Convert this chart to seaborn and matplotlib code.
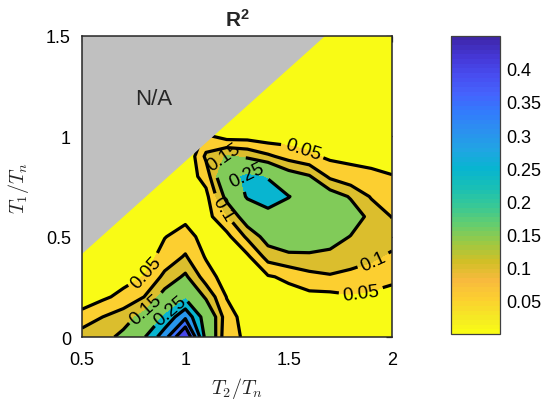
import numpy as np
import matplotlib
matplotlib.use("Agg")
import matplotlib.pyplot as plt
import seaborn as sns
from matplotlib.colors import LinearSegmentedColormap, Normalize
from matplotlib.patches import Polygon
from matplotlib.cm import ScalarMappable

# ---- grid coordinates -------------------------------------------------------
t2_grid = [0.5, 0.6, 0.7, 0.8, 0.9, 1.0, 1.1, 1.2, 1.3, 1.4, 1.5, 1.6, 1.7, 1.8, 1.9, 2.0]
t1_grid = [0.0, 0.1, 0.2, 0.3, 0.4, 0.5, 0.6, 0.7, 0.8, 0.9, 1.0, 1.1, 1.2, 1.3, 1.4, 1.5]

# ---- R^2 values, one list per T1/Tn row (columns follow t2_grid) -------------
r2_t1_00 = [0.12, 0.13, 0.165, 0.245, 0.33, 0.46, 0.23, 0.06, 0.045, 0.03, 0.02, 0.015, 0.01, 0.01, 0.01, 0.015]
r2_t1_01 = [0.075, 0.10, 0.125, 0.17, 0.26, 0.34, 0.22, 0.07, 0.03, 0.02, 0.01, 0.015, 0.02, 0.025, 0.02, 0.02]
r2_t1_02 = [0.01, 0.04, 0.065, 0.10, 0.175, 0.24, 0.14, 0.048, 0.02, 0.03, 0.03, 0.035, 0.035, 0.045, 0.04, 0.035]
r2_t1_03 = [0.0, 0.015, 0.03, 0.052, 0.1125, 0.16, 0.075, 0.025, 0.025, 0.045, 0.06, 0.085, 0.095, 0.085, 0.075, 0.06]
r2_t1_04 = [0.0, 0.005, 0.01, 0.025, 0.07, 0.105, 0.045, 0.02, 0.04, 0.12, 0.14, 0.14, 0.135, 0.125, 0.11, 0.09]
r2_t1_05 = [0.0, 0.0, 0.005, 0.01, 0.048, 0.07, 0.03, 0.035, 0.11, 0.175, 0.185, 0.19, 0.175, 0.148, 0.14, 0.125]
r2_t1_06 = [0.0, 0.0, 0.0, 0.01, 0.03, 0.037, 0.03, 0.095, 0.19, 0.225, 0.22, 0.215, 0.195, 0.18, 0.135, 0.098]
r2_t1_07 = [0.0, 0.0, 0.0, 0.01, 0.02, 0.02, 0.035, 0.17, 0.258, 0.285, 0.252, 0.22, 0.18, 0.145, 0.095, 0.075]
r2_t1_08 = [0.0, 0.0, 0.0, 0.0, 0.0, 0.02, 0.07, 0.225, 0.262, 0.245, 0.18, 0.155, 0.09, 0.065, 0.06, 0.052]
r2_t1_09 = [0.0, 0.0, 0.0, 0.0, 0.0, 0.0, 0.11, 0.155, 0.14, 0.11, 0.08, 0.06, 0.04, 0.04, 0.035, 0.03]
r2_t1_10 = [0.0, 0.0, 0.0, 0.0, 0.0, 0.0, 0.06, 0.03, 0.03, 0.02, 0.025, 0.025, 0.02, 0.02, 0.02, 0.02]
r2_t1_11 = [0.0, 0.0, 0.0, 0.0, 0.0, 0.0, 0.01, 0.01, 0.01, 0.01, 0.01, 0.01, 0.01, 0.01, 0.01, 0.01]
r2_t1_12 = [0.0, 0.0, 0.0, 0.0, 0.0, 0.0, 0.01, 0.01, 0.01, 0.01, 0.01, 0.01, 0.01, 0.01, 0.01, 0.01]
r2_t1_13 = [0.0, 0.0, 0.0, 0.0, 0.0, 0.0, 0.01, 0.01, 0.01, 0.01, 0.01, 0.01, 0.01, 0.01, 0.01, 0.01]
r2_t1_14 = [0.0, 0.0, 0.0, 0.0, 0.0, 0.0, 0.01, 0.01, 0.01, 0.01, 0.01, 0.01, 0.01, 0.01, 0.01, 0.01]
r2_t1_15 = [0.0, 0.0, 0.0, 0.0, 0.0, 0.0, 0.01, 0.01, 0.01, 0.01, 0.01, 0.01, 0.01, 0.01, 0.01, 0.01]

r2 = np.array([r2_t1_00, r2_t1_01, r2_t1_02, r2_t1_03, r2_t1_04, r2_t1_05,
               r2_t1_06, r2_t1_07, r2_t1_08, r2_t1_09, r2_t1_10, r2_t1_11,
               r2_t1_12, r2_t1_13, r2_t1_14, r2_t1_15])

# contour levels, colorbar ticks, and where each labelled level gets its text
line_levels = [0.05, 0.1, 0.15, 0.25, 0.3, 0.35, 0.4]
cbar_ticks = [0.05, 0.1, 0.15, 0.2, 0.25, 0.3, 0.35, 0.4]
label_spots = {
    0.05: [(1.56, 0.90), (1.85, 0.22), (0.83, 0.31)],
    0.1: [(1.18, 0.64), (1.92, 0.36)],
    0.15: [(1.18, 0.90), (0.80, 0.15)],
    0.25: [(1.30, 0.80), (0.93, 0.13)],
}
# region where no result exists
na_corners = [(0.5, 0.414), (1.676, 1.5), (0.5, 1.5)]

# ---- style ------------------------------------------------------------------
sns.set_theme(style="white")
plt.rcParams["font.family"] = ["Liberation Sans", "DejaVu Sans"]
plt.rcParams["mathtext.fontset"] = "cm"
plt.rcParams["mathtext.rm"] = "Liberation Sans"
plt.rcParams["mathtext.bf"] = "Liberation Sans:bold"

parula_pts = [
    (0.2422, 0.1504, 0.6603), (0.2706, 0.2147, 0.8364), (0.2813, 0.3006, 0.9414),
    (0.2699, 0.3892, 0.9906), (0.1963, 0.4847, 0.9892), (0.1687, 0.5703, 0.9359),
    (0.1248, 0.6459, 0.8883), (0.0297, 0.7082, 0.8163), (0.0964, 0.7500, 0.7120),
    (0.2161, 0.7843, 0.5923), (0.3909, 0.8029, 0.4354), (0.6174, 0.7876, 0.2612),
    (0.8203, 0.7498, 0.1535), (0.9728, 0.7298, 0.2394), (0.9892, 0.8136, 0.1885),
    (0.9597, 0.9135, 0.1423), (0.9769, 0.9839, 0.0805),
]
pos = [0, 4, 8, 12, 16, 20, 24, 28, 32, 36, 40, 44, 48, 52, 56, 60, 63]
parula = LinearSegmentedColormap.from_list(
    "parula", [(p / 63, c) for p, c in zip(pos, parula_pts)], N=64)
cmap = parula.reversed()
norm = Normalize(vmin=0.0, vmax=0.45)

fill_levels = [0.0] + line_levels + [0.5]
band_colors = [cmap(norm(v)) for v in fill_levels[:-1]]

fig = plt.figure(figsize=(5.59, 4.02), dpi=100)
fig.patch.set_facecolor("white")
ax = fig.add_axes([0.1467, 0.1592, 0.5546, 0.7488])

X, Y = np.meshgrid(t2_grid, t1_grid)
ax.contourf(X, Y, r2, levels=fill_levels, colors=band_colors, zorder=1)

# each line level drawn on its own so its labels can be placed independently
for lv in line_levels:
    cs = ax.contour(X, Y, r2, levels=[lv], colors="black", linewidths=2.3, zorder=2)
    if lv in label_spots:
        ax.clabel(cs, manual=label_spots[lv], inline=True, inline_spacing=4,
                  fontsize=13.5, fmt=lambda v: f"{v:g}")

ax.add_patch(Polygon(na_corners, closed=True, facecolor="#c0c0c0",
                     edgecolor="none", zorder=2.3))
ax.text(0.845, 1.19, "N/A", ha="center", va="center", fontsize=16, zorder=4)

ax.set_xlim(0.5, 2.0)
ax.set_ylim(0.0, 1.5)
ax.set_xticks([0.5, 1.0, 1.5, 2.0])
ax.set_xticklabels(["0.5", "1", "1.5", "2"])
ax.set_yticks([0.0, 0.5, 1.0, 1.5])
ax.set_yticklabels(["0", "0.5", "1", "1.5"])
ax.tick_params(axis="both", direction="in", top=True, right=True, length=4,
               width=0.9, colors="#262626", labelsize=13, labelcolor="black")
ax.tick_params(axis="x", pad=10)
ax.tick_params(axis="y", pad=8)
for sp in ax.spines.values():
    sp.set_color("#262626")
    sp.set_linewidth(1.1)
    sp.set_visible(True)

ax.set_xlabel(r"$T_2/T_n$", fontsize=14.5)
ax.set_ylabel(r"$T_1/T_n$", fontsize=14.5)
ax.xaxis.set_label_coords(0.5, -0.125)
ax.yaxis.set_label_coords(-0.165, 0.5)
ax.set_title(r"$\mathbf{R^2}$", fontsize=15, pad=7, math_fontfamily="custom")

cax = fig.add_axes([0.806, 0.1667, 0.088, 0.742])
sm = ScalarMappable(norm=norm, cmap=cmap)
cb = fig.colorbar(sm, cax=cax, ticks=cbar_ticks)
cb.ax.set_yticklabels([f"{t:g}" for t in cbar_ticks])
cb.ax.tick_params(direction="in", length=3, width=0.8, labelsize=13,
                  colors="#262626", labelcolor="black", pad=5)
cb.outline.set_edgecolor("#404040")
cb.outline.set_linewidth(0.9)

fig.savefig("out.png", dpi=100, facecolor="white")
